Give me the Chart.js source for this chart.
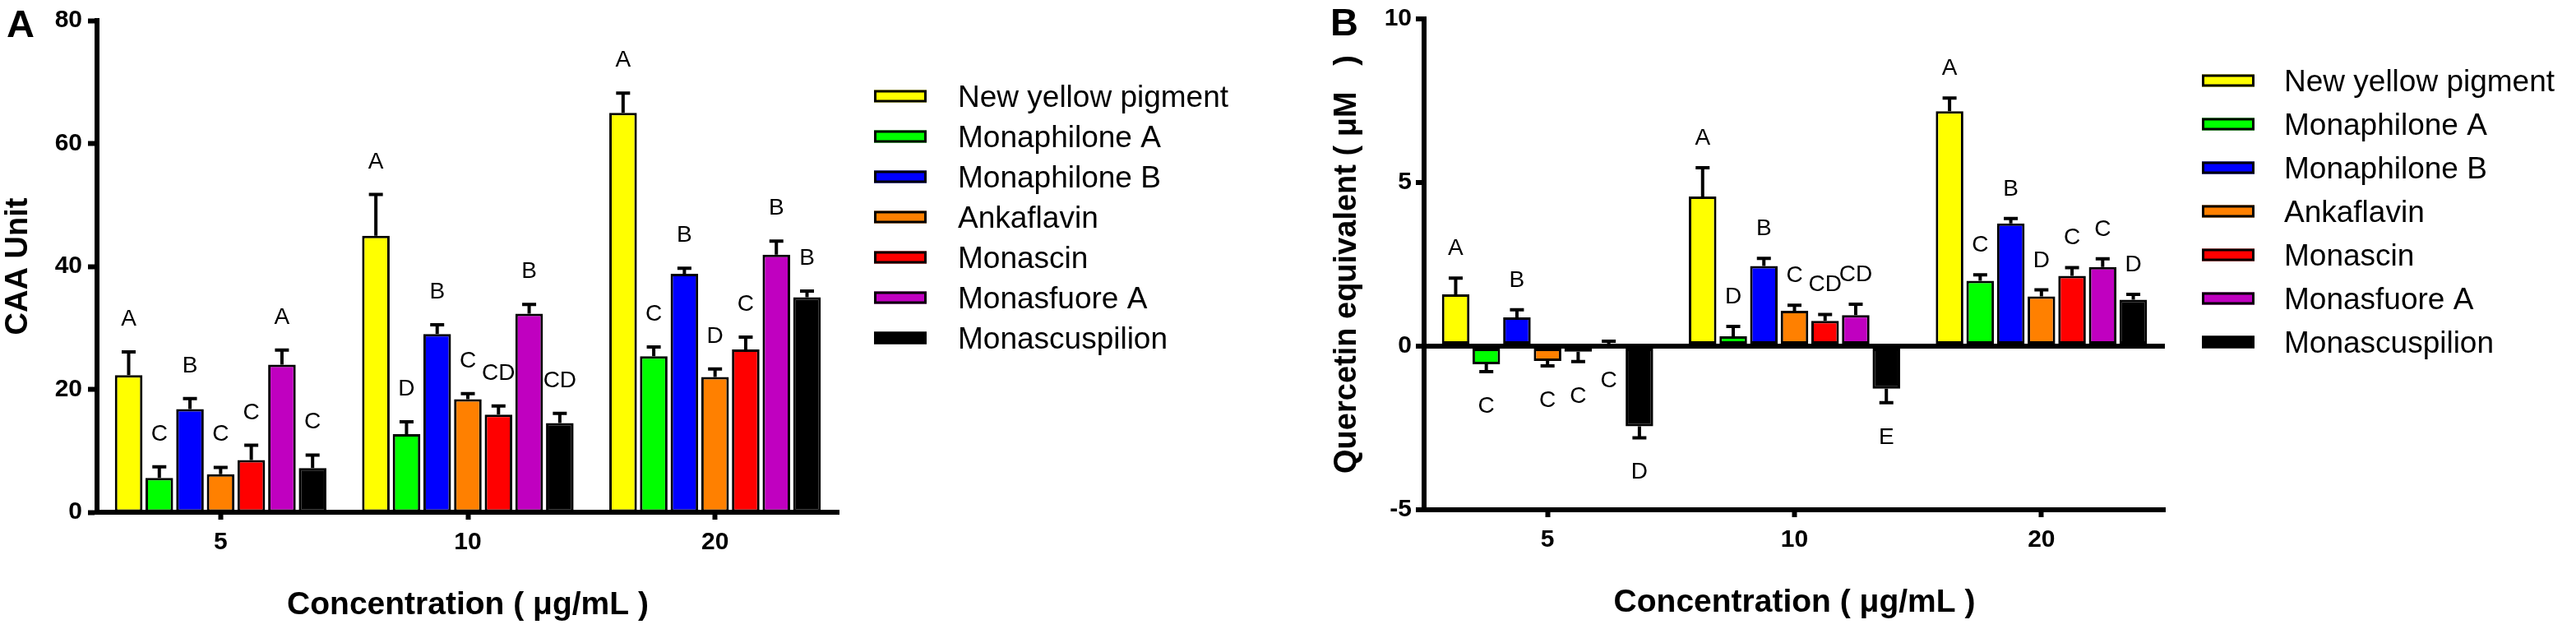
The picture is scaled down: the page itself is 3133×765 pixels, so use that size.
<!DOCTYPE html>
<html>
<head>
<meta charset="utf-8">
<script src="https://cdn.jsdelivr.net/npm/chart.js@4.4.1/dist/chart.umd.min.js"></script>
<style>
html,body{margin:0;padding:0;background:#fff;}
#wrap{position:relative;width:3133px;height:765px;overflow:hidden;background:#fff;}
canvas{position:absolute;top:0;}
</style>
</head>
<body>
<div id="wrap">
<canvas id="cA" width="1590" height="765" style="left:0px;width:1590px;height:765px"></canvas>
<canvas id="cB" width="1543" height="765" style="left:1590px;width:1543px;height:765px"></canvas>
</div>
<script>
// ---------- data ----------
const categories = ['5', '10', '20'];
const seriesNames = ['New yellow pigment', 'Monaphilone A', 'Monaphilone B', 'Ankaflavin', 'Monascin', 'Monasfuore A', 'Monascuspilion'];
const seriesColors = ['#FFFF00', '#00FF00', '#0000FF', '#FF8000', '#FF0000', '#C000C0', '#000000'];

// Panel A: CAA Unit (mean, SD, significance letters)
const caaYellow  = [22.3, 45.0, 65.0];
const caaGreen   = [5.6, 12.7, 25.4];
const caaBlue    = [16.8, 29.0, 38.8];
const caaOrange  = [6.2, 18.4, 22.0];
const caaRed     = [8.5, 15.9, 26.5];
const caaMagenta = [24.0, 32.3, 41.9];
const caaBlack   = [7.2, 14.5, 35.0];

const caaErrYellow  = [3.8, 6.7, 3.2];
const caaErrGreen   = [1.8, 2.0, 1.5];
const caaErrBlue    = [1.7, 1.5, 0.9];
const caaErrOrange  = [1.1, 0.9, 1.3];
const caaErrRed     = [2.4, 1.4, 2.0];
const caaErrMagenta = [2.4, 1.5, 2.2];
const caaErrBlack   = [2.1, 1.6, 1.0];

const caaLetYellow  = ['A', 'A', 'A'];
const caaLetGreen   = ['C', 'D', 'C'];
const caaLetBlue    = ['B', 'B', 'B'];
const caaLetOrange  = ['C', 'C', 'D'];
const caaLetRed     = ['C', 'CD', 'C'];
const caaLetMagenta = ['A', 'B', 'B'];
const caaLetBlack   = ['C', 'CD', 'B'];

// Panel B: Quercetin equivalent (µM)
const qeYellow  = [1.58, 4.57, 7.18];
const qeGreen   = [-0.55, 0.30, 2.00];
const qeBlue    = [0.88, 2.45, 3.75];
const qeOrange  = [-0.45, 1.08, 1.52];
const qeRed     = [-0.17, 0.77, 2.15];
const qeMagenta = [0.02, 0.95, 2.42];
const qeBlack   = [-2.45, -1.30, 1.42];

const qeErrYellow  = [0.50, 0.88, 0.40];
const qeErrGreen   = [0.23, 0.30, 0.18];
const qeErrBlue    = [0.23, 0.23, 0.15];
const qeErrOrange  = [0.15, 0.17, 0.20];
const qeErrRed     = [0.30, 0.20, 0.25];
const qeErrMagenta = [0.13, 0.33, 0.25];
const qeErrBlack   = [0.35, 0.43, 0.16];

const qeLetYellow  = ['A', 'A', 'A'];
const qeLetGreen   = ['C', 'D', 'C'];
const qeLetBlue    = ['B', 'B', 'B'];
const qeLetOrange  = ['C', 'C', 'D'];
const qeLetRed     = ['C', 'CD', 'C'];
const qeLetMagenta = ['C', 'CD', 'C'];
const qeLetBlack   = ['D', 'E', 'D'];

const caaTicks = [0, 20, 40, 60, 80];
const qeTicks = [-5, 0, 5, 10];

// ---------- plugins ----------
const FAMILY = "'Liberation Sans', Arial, Helvetica, sans-serif";

const errorBarPlugin = {
  id: 'errorBars',
  afterDatasetsDraw(chart) {
    const ctx = chart.ctx, ys = chart.scales.y;
    chart.data.datasets.forEach((ds, i) => {
      const meta = chart.getDatasetMeta(i);
      meta.data.forEach((bar, j) => {
        const v = ds.data[j], e = ds.errors[j];
        const end = v >= 0 ? v + e : v - e;
        const y0 = ys.getPixelForValue(v), y1 = ys.getPixelForValue(end);
        ctx.save();
        ctx.strokeStyle = '#000';
        ctx.lineWidth = 4;
        ctx.beginPath();
        ctx.moveTo(bar.x, y0); ctx.lineTo(bar.x, y1);
        ctx.moveTo(bar.x - 8.5, y1); ctx.lineTo(bar.x + 8.5, y1);
        ctx.stroke();
        ctx.restore();
      });
    });
  }
};

const letterPlugin = {
  id: 'letters',
  afterDatasetsDraw(chart, args, opts) {
    const ctx = chart.ctx, ys = chart.scales.y;
    const size = opts.size || 26;
    ctx.save();
    ctx.font = size + 'px ' + FAMILY;
    ctx.fillStyle = '#000';
    ctx.textAlign = 'center';
    ctx.textBaseline = 'alphabetic';
    chart.data.datasets.forEach((ds, i) => {
      const meta = chart.getDatasetMeta(i);
      meta.data.forEach((bar, j) => {
        const v = ds.data[j], e = ds.errors[j], t = ds.letters[j];
        let y;
        if (v > 0.1) {
          y = ys.getPixelForValue(v + e) - opts.gapAbove;
        } else {
          const base = v < 0 ? v - e : 0;
          y = ys.getPixelForValue(base) + opts.gapBelow + size * 0.716;
        }
        ctx.fillText(t, bar.x, y);
      });
    });
    ctx.restore();
  }
};

const sideLegendPlugin = {
  id: 'sideLegend',
  afterDraw(chart, args, opts) {
    const ctx = chart.ctx;
    ctx.save();
    ctx.font = opts.size + 'px ' + FAMILY;
    ctx.textAlign = 'left';
    ctx.textBaseline = 'middle';
    chart.data.datasets.forEach((ds, i) => {
      const cy = opts.y0 + opts.dy * i;
      ctx.fillStyle = ds.backgroundColor;
      ctx.fillRect(opts.boxX, cy - opts.boxH / 2, opts.boxW, opts.boxH);
      ctx.strokeStyle = '#000';
      ctx.lineWidth = 3;
      ctx.strokeRect(opts.boxX + 1.5, cy - opts.boxH / 2 + 1.5, opts.boxW - 3, opts.boxH - 3);
      ctx.fillStyle = '#000';
      ctx.fillText(ds.label, opts.textX, cy + 3);
    });
    ctx.restore();
  }
};

const panelLabelPlugin = {
  id: 'panelLabel',
  afterDraw(chart, args, opts) {
    const ctx = chart.ctx;
    ctx.save();
    ctx.font = 'bold 47px ' + FAMILY;
    ctx.fillStyle = '#000';
    ctx.textAlign = 'left';
    ctx.textBaseline = 'alphabetic';
    ctx.fillText(opts.text, opts.x, opts.y);
    ctx.restore();
  }
};

// ---------- builder ----------
function build(id, cfg) {
  const datasets = cfg.values.map((vals, i) => ({
    label: seriesNames[i],
    data: vals,
    errors: cfg.errors[i],
    letters: cfg.letters[i],
    backgroundColor: seriesColors[i],
    borderColor: '#000',
    borderWidth: 3,
    borderSkipped: false,
    categoryPercentage: 0.868,
    barPercentage: 0.9
  }));
  const tickVals = cfg.ticks;
  return new Chart(document.getElementById(id), {
    type: 'bar',
    data: { labels: categories, datasets },
    options: {
      responsive: false,
      animation: false,
      devicePixelRatio: 1,
      events: [],
      layout: { padding: { left: 0, top: cfg.padTop, right: cfg.padRight, bottom: 0 } },
      plugins: {
        legend: { display: false },
        tooltip: { enabled: false },
        letters: { gapAbove: cfg.gapAbove, gapBelow: cfg.gapBelow, size: 28 },
        sideLegend: cfg.legend,
        panelLabel: cfg.panel
      },
      scales: {
        x: {
          type: 'category',
          offset: true,
          grid: { display: true, drawOnChartArea: false, offset: false, tickLength: 9, tickWidth: 6, tickColor: '#000', color: '#000' },
          border: { display: true, width: 6, color: '#000' },
          ticks: { color: '#000', padding: 10, maxRotation: 0, font: { family: FAMILY, size: 30, weight: 'bold' } },
          title: { display: true, text: 'Concentration ( μg/mL )', color: '#000', padding: { top: 0, bottom: cfg.xTitlePad }, font: { family: FAMILY, size: 39, weight: 'bold' } },
          afterFit(s) { s.height = cfg.xHeight; }
        },
        y: {
          min: tickVals[0],
          max: tickVals[tickVals.length - 1],
          afterBuildTicks(s) { s.ticks = tickVals.map(v => ({ value: v })); },
          grid: cfg.yGrid,
          border: { display: true, width: 6, color: '#000' },
          ticks: { color: '#000', padding: cfg.yTickPad, font: { family: FAMILY, size: 30, weight: 'bold' } },
          title: { display: true, text: cfg.yTitle, color: '#000', padding: { top: cfg.yTitlePad, bottom: 0 }, font: { family: FAMILY, size: 38, weight: 'bold' } },
          afterFit(s) { s.width = cfg.yWidth; }
        }
      }
    },
    plugins: [errorBarPlugin, letterPlugin, sideLegendPlugin, panelLabelPlugin]
  });
}

build('cA', {
  values: [caaYellow, caaGreen, caaBlue, caaOrange, caaRed, caaMagenta, caaBlack],
  errors: [caaErrYellow, caaErrGreen, caaErrBlue, caaErrOrange, caaErrRed, caaErrMagenta, caaErrBlack],
  letters: [caaLetYellow, caaLetGreen, caaLetBlue, caaLetOrange, caaLetRed, caaLetMagenta, caaLetBlack],
  ticks: caaTicks,
  yTitle: 'CAA Unit',
  padTop: 19, padRight: 570, yWidth: 118, xHeight: 142,
  xTitlePad: 5, yTitlePad: 0, yTickPad: 7,
  gapAbove: 32, gapBelow: 30,
  yGrid: { display: true, drawOnChartArea: false, tickLength: 11, tickWidth: 6, tickColor: '#000', color: '#000' },
  legend: { boxX: 1063, boxW: 64, boxH: 15, textX: 1165, y0: 117, dy: 49, size: 37 },
  panel: { text: 'A', x: 8, y: 45 }
});

build('cB', {
  values: [qeYellow, qeGreen, qeBlue, qeOrange, qeRed, qeMagenta, qeBlack],
  errors: [qeErrYellow, qeErrGreen, qeErrBlue, qeErrOrange, qeErrRed, qeErrMagenta, qeErrBlack],
  letters: [qeLetYellow, qeLetGreen, qeLetBlue, qeLetOrange, qeLetRed, qeLetMagenta, qeLetBlack],
  ticks: qeTicks,
  yTitle: 'Quercetin equivalent ( μM   )',
  padTop: 20, padRight: 500, yWidth: 142, xHeight: 145,
  xTitlePad: 8, yTitlePad: 26, yTickPad: 5,
  gapAbove: 28, gapBelow: 30,
  yGrid: {
    display: true, drawOnChartArea: true, tickLength: 10, tickWidth: 6, tickColor: '#000',
    color: c => (c.tick && c.tick.value === 0) ? '#000' : 'rgba(0,0,0,0)',
    lineWidth: 6
  },
  legend: { boxX: 1088, boxW: 64, boxH: 15, textX: 1188, y0: 98, dy: 53, size: 37 },
  panel: { text: 'B', x: 28, y: 43 }
});
</script>
</body>
</html>
